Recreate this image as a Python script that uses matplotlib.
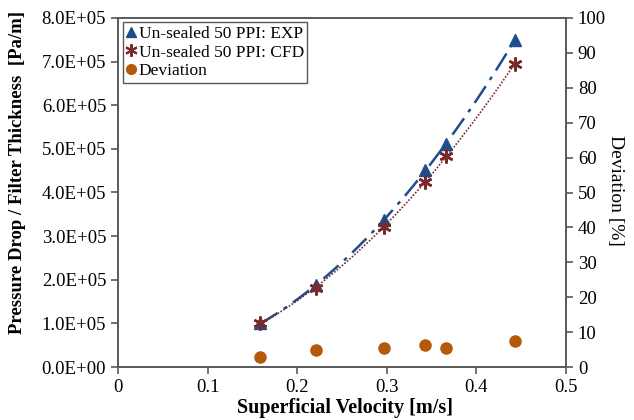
import numpy as np
import matplotlib
matplotlib.use("Agg")
import matplotlib.pyplot as plt
from matplotlib.ticker import FuncFormatter
from matplotlib.lines import Line2D

plt.rcParams['font.family'] = ['Liberation Serif', 'DejaVu Serif']
plt.rcParams['font.size'] = 13

# Dados
velocidade = [0.159, 0.221, 0.297, 0.343, 0.366, 0.443]
dp_exp = [1.00e5, 1.88e5, 3.37e5, 4.52e5, 5.11e5, 7.50e5]
dp_cfd = [1.00e5, 1.82e5, 3.22e5, 4.24e5, 4.84e5, 6.95e5]
desvio = [2.9, 4.9, 5.4, 6.3, 5.5, 7.4]

cor_exp = '#1F4E8C'
cor_cfd = '#7B2A2A'
cor_desvio = '#B4580A'
cor_eixo = '#595959'

fig = plt.figure(figsize=(6.34, 4.2), dpi=100)
ax = fig.add_axes([118 / 634, 1 - 367 / 420, 448 / 634, 349 / 420])
ax2 = ax.twinx()

# Linhas de tendência (polinômio de 2ª ordem)
xs = np.linspace(min(velocidade), max(velocidade), 100)
p_exp = np.polyfit(velocidade, dp_exp, 2)
p_cfd = np.polyfit(velocidade, dp_cfd, 2)
ax.plot(xs, np.polyval(p_exp, xs), color=cor_exp, linestyle=(0, (8, 3, 1.5, 3)), linewidth=1.8)
ax.plot(xs, np.polyval(p_cfd, xs), color=cor_cfd, linestyle=(0, (1, 1)), linewidth=1.2)

ax.plot(velocidade, dp_exp, linestyle='none', marker='^', markersize=8, color=cor_exp)
ax.plot(velocidade, dp_cfd, linestyle='none', marker=(6, 2, 0), markersize=10,
        markeredgewidth=1.8, color=cor_cfd)
ax2.plot(velocidade, desvio, linestyle='none', marker='o', markersize=8, color=cor_desvio)

ax.set_xlim(0, 0.5)
ax.set_ylim(0, 8e5)
ax2.set_ylim(0, 100)
ax.set_xticks([0, 0.1, 0.2, 0.3, 0.4, 0.5])
ax.set_xticklabels(['0', '0.1', '0.2', '0.3', '0.4', '0.5'])
ax.set_yticks(np.arange(0, 8.01e5, 1e5))
ax.yaxis.set_major_formatter(FuncFormatter(lambda v, pos: f"{v / 1e5:.1f}E+05" if v > 0 else "0.0E+00"))
ax2.set_yticks(np.arange(0, 101, 10))

for a in (ax, ax2):
    for s in a.spines.values():
        s.set_color(cor_eixo)
        s.set_linewidth(1.2)
    a.tick_params(colors='black', length=5, width=1.2, labelsize=13.5)
    a.tick_params(axis='both', color=cor_eixo)

fig.text(18 / 634, 1 - 173 / 420, 'Pressure Drop / Filter Thickness  [Pa/m]', rotation=90,
         ha='center', va='center', fontweight='bold', fontsize=13.5)
# rótulo do eixo x mantido inteiro dentro da figura
fig.text(345 / 634, 2 / 420, 'Superficial Velocity [m/s]', ha='center', va='bottom',
         fontweight='bold', fontsize=14.5)
fig.text(615 / 634, 1 - 190 / 420, 'Deviation [%]', rotation=270, ha='center', va='center',
         fontsize=14)

handles = [
    Line2D([], [], linestyle='none', marker='^', markersize=7, color=cor_exp),
    Line2D([], [], linestyle='none', marker=(6, 2, 0), markersize=9, markeredgewidth=1.5, color=cor_cfd),
    Line2D([], [], linestyle='none', marker='o', markersize=7, color=cor_desvio),
]
labels = ['Un-sealed 50 PPI: EXP', 'Un-sealed 50 PPI: CFD', 'Deviation']
leg = ax2.legend(handles, labels, loc='upper left', bbox_to_anchor=(0.011, 0.988),
                 fancybox=False, edgecolor=cor_eixo, framealpha=1, fontsize=12.5,
                 handlelength=0.5, handletextpad=0.2, borderpad=0.2, labelspacing=0.15,
                 borderaxespad=0)
leg.get_frame().set_linewidth(1.0)

fig.savefig('out.png', dpi=100)
